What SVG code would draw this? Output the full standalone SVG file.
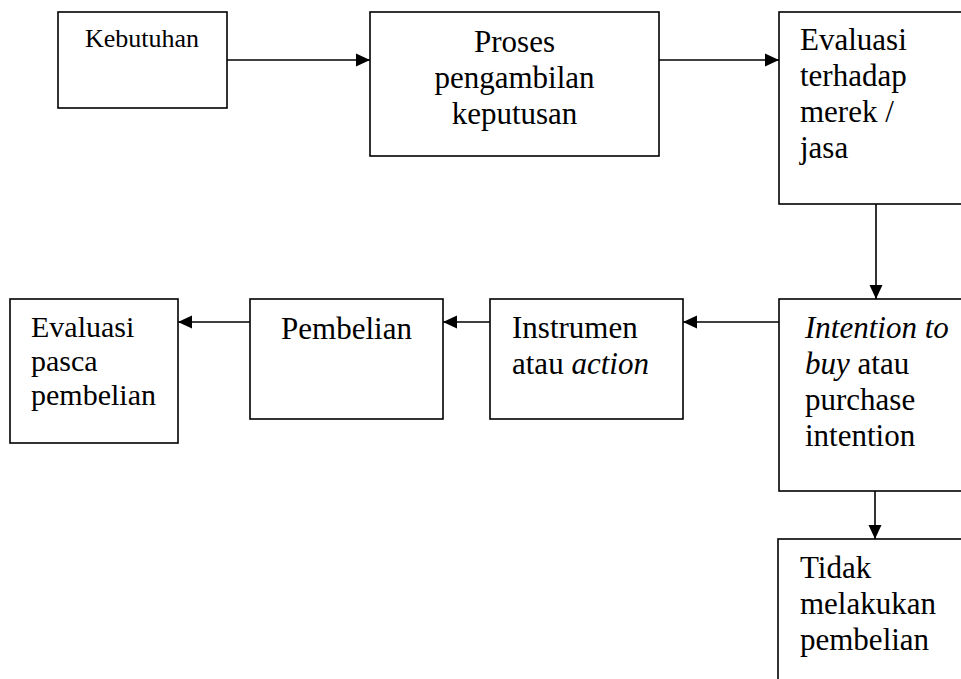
<svg xmlns="http://www.w3.org/2000/svg" width="961" height="679" viewBox="0 0 961 679">
<style>
.box{fill:#fff;stroke:#000;stroke-width:1.6}
.t{font-family:"Liberation Serif","Times New Roman",serif;font-size:31px;fill:#000}
.s{font-size:26px}
.m{font-size:30px}
.c{text-anchor:middle}
.i{font-style:italic}
.con line{stroke:#000;stroke-width:1.6}
</style>
<defs>
<marker id="ah" markerUnits="userSpaceOnUse" markerWidth="15" markerHeight="14" refX="14" refY="7" orient="auto">
<path d="M0,0.5 L14,7 L0,13.5 z" fill="#000"/>
</marker>
</defs>
<rect width="961" height="679" fill="#fff"/>
<g id="kebutuhan">
<rect class="box" x="58" y="12" width="169" height="96"/>
<text class="t s c" x="142" y="47">Kebutuhan</text>
</g>
<g id="proses">
<rect class="box" x="370" y="12" width="289" height="144"/>
<text class="t c" x="514.5" y="52">Proses</text>
<text class="t c" x="514.5" y="88">pengambilan</text>
<text class="t c" x="514.5" y="124">keputusan</text>
</g>
<g id="evaluasi">
<rect class="box" x="779" y="12" width="200" height="192"/>
<text class="t" x="800" y="50">Evaluasi</text>
<text class="t" x="800" y="86">terhadap</text>
<text class="t" x="800" y="122">merek /</text>
<text class="t" x="800" y="158">jasa</text>
</g>
<g id="intention">
<rect class="box" x="779" y="299" width="200" height="192"/>
<text class="t" x="805" y="338"><tspan class="i">Intention to</tspan></text>
<text class="t" x="805" y="374"><tspan class="i">buy</tspan> atau</text>
<text class="t" x="805" y="410">purchase</text>
<text class="t" x="805" y="446">intention</text>
</g>
<g id="instrumen">
<rect class="box" x="490" y="299" width="193" height="120"/>
<text class="t" x="512" y="338">Instrumen</text>
<text class="t" x="512" y="374">atau <tspan class="i">action</tspan></text>
</g>
<g id="pembelian">
<rect class="box" x="250" y="299" width="193" height="120"/>
<text class="t c" x="346.5" y="339">Pembelian</text>
</g>
<g id="evaluasi-pasca">
<rect class="box" x="10" y="299" width="168" height="144"/>
<text class="t m" x="31" y="337">Evaluasi</text>
<text class="t m" x="31" y="371">pasca</text>
<text class="t m" x="31" y="405">pembelian</text>
</g>
<g id="tidak">
<rect class="box" x="778" y="539" width="200" height="160"/>
<text class="t" x="800" y="578">Tidak</text>
<text class="t" x="800" y="614">melakukan</text>
<text class="t" x="800" y="650">pembelian</text>
</g>
<g id="connectors" class="con">
<line x1="227" y1="60" x2="370" y2="60" marker-end="url(#ah)"/>
<line x1="659" y1="60" x2="779" y2="60" marker-end="url(#ah)"/>
<line x1="876" y1="204" x2="876" y2="299" marker-end="url(#ah)"/>
<line x1="779" y1="322" x2="683" y2="322" marker-end="url(#ah)"/>
<line x1="490" y1="322" x2="443" y2="322" marker-end="url(#ah)"/>
<line x1="250" y1="322" x2="178" y2="322" marker-end="url(#ah)"/>
<line x1="875" y1="491" x2="875" y2="539" marker-end="url(#ah)"/>
</g>
</svg>
